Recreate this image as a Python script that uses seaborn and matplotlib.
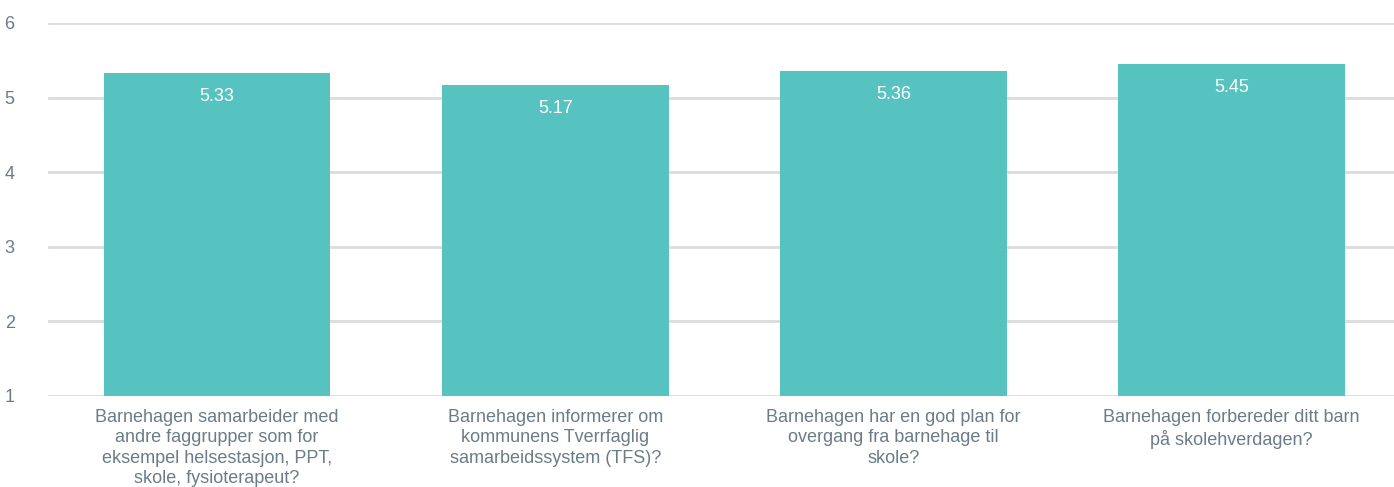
import matplotlib
matplotlib.use("Agg")
import matplotlib.pyplot as plt
import seaborn as sns
import pandas as pd

categories = [
    "Barnehagen samarbeider med\nandre faggrupper som for\neksempel helsestasjon, PPT,\nskole, fysioterapeut?",
    "Barnehagen informerer om\nkommunens Tverrfaglig\nsamarbeidssystem (TFS)?",
    "Barnehagen har en god plan for\novergang fra barnehage til\nskole?",
    "Barnehagen forbereder ditt barn\npå skolehverdagen?",
]
values = [5.33, 5.17, 5.36, 5.45]
yticks = [1, 2, 3, 4, 5, 6]

sns.set_theme(style="white")
plt.rcParams["font.family"] = ["Liberation Sans", "DejaVu Sans"]

text_color = "#6b7c88"
bar_color = "#57c3c0"
grid_color = "#dcdcdc"

df = pd.DataFrame({"cat": categories, "val": [v - 1 for v in values]})

fig = plt.figure(figsize=(13.94, 4.87), dpi=100)
ax = fig.add_axes([48 / 1394, 1 - 396 / 487, (1394 - 48) / 1394, (396 - 23) / 487])

sns.barplot(data=df, x="cat", y="val", color=bar_color, saturation=1, width=0.67,
            ax=ax, bottom=1, zorder=3, linewidth=0)

ax.set_ylim(1, 6)
ax.set_xlim(-0.5, 3.48)
ax.set_yticks(yticks)
ax.set_yticklabels([str(t) for t in yticks])
ax.yaxis.grid(True, color=grid_color, linewidth=2, zorder=0)
ax.set_axisbelow(True)
for s in ax.spines.values():
    s.set_visible(False)
ax.tick_params(axis="y", length=0, pad=24, labelsize=13, labelcolor=text_color)
ax.tick_params(axis="x", length=0, pad=9, labelsize=13, labelcolor=text_color)
for lbl in ax.get_xticklabels():
    lbl.set_linespacing(1.28)
ax.set_xlabel("")
ax.set_ylabel("")

for i, v in enumerate(values):
    ax.annotate(f"{v:.2f}", xy=(i, v), xytext=(0, -17), textcoords="offset points",
                ha="center", va="center", color="white", fontsize=13)

fig.savefig("out.png", dpi=100)
